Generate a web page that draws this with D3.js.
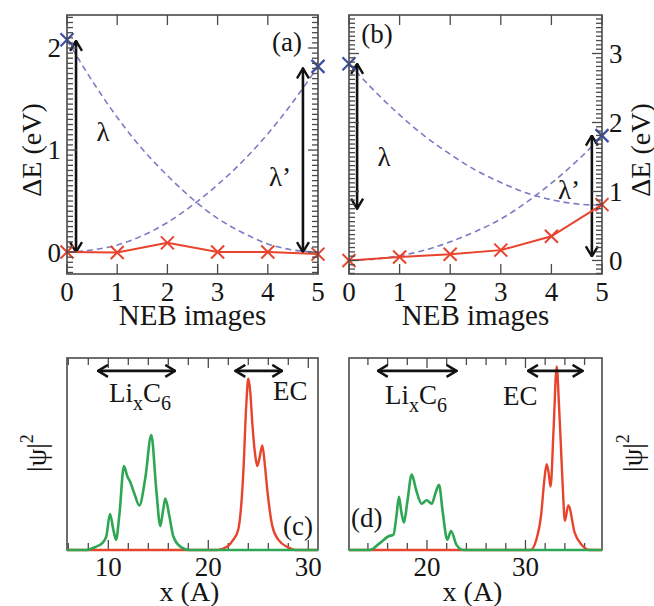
<!DOCTYPE html>
<html><head><meta charset="utf-8">
<script src="https://cdn.jsdelivr.net/npm/d3@7"></script>
<style>body{margin:0;background:#fff}svg{display:block}</style>
</head><body><svg id="c" width="654" height="606"></svg>
<script>
// ---------- data ----------
const nebImages = [0, 1, 2, 3, 4, 5];
const dashX = [0, 0.5, 1, 1.5, 2, 2.5, 3, 3.5, 4, 4.5, 5];
// panel (a)
const redA = [0, -0.005, 0.09, 0, 0, -0.02];
const blueAx = [0, 5];
const blueAy = [2.08, 1.82];
const dashA1 = [2.08, 1.68, 1.32, 1.01, 0.75, 0.52, 0.33, 0.19, 0.08, 0.02, 0];
const dashA2 = [0, 0.02, 0.07, 0.16, 0.29, 0.46, 0.66, 0.89, 1.16, 1.47, 1.82];
const arrowsAx = [0.18, 4.7];
const arrowsAtop = [2.07, 1.8];
const arrowsAbot = [0, 0];
// panel (b)
const redB = [0, 0.05, 0.09, 0.15, 0.35, 0.81];
const blueBx = [0, 5];
const blueBy = [2.85, 1.81];
const dashB1 = [2.85, 2.46, 2.11, 1.80, 1.54, 1.31, 1.13, 0.98, 0.88, 0.82, 0.80];
const dashB2 = [0, 0.02, 0.07, 0.15, 0.27, 0.42, 0.60, 0.84, 1.12, 1.44, 1.80];
const arrowsBx = [0.16, 4.8];
const arrowsBtop = [2.85, 1.81];
const arrowsBbot = [0.75, 0.06];
const yTicksA = [0, 1, 2];
const yTicksB = [0, 1, 2, 3];
// panel (c)
const greenCx = [5.87, 7.8, 8.8, 9.4, 9.8, 10.17, 10.5, 10.77, 11.1, 11.57, 11.9, 12.17, 12.6, 13.1, 13.7, 14.3, 14.8, 15.2, 15.45, 15.7, 16.1, 16.5, 17.3, 18.1, 30.97];
const greenCy = [0, 0, 0.02, 0.04, 0.08, 0.21, 0.12, 0.06, 0.2, 0.49, 0.43, 0.40, 0.33, 0.26, 0.42, 0.67, 0.35, 0.14, 0.22, 0.30, 0.2, 0.08, 0.015, 0, 0];
const redCx = [5.87, 20.9, 21.9, 22.5, 23.0, 23.5, 23.8, 24.0, 24.2, 24.4, 24.7, 24.9, 25.1, 25.4, 25.65, 25.9, 26.4, 27.0, 28.0, 28.7, 30.97];
const redCy = [0, 0, 0.02, 0.06, 0.12, 0.45, 0.85, 1.0, 0.92, 0.74, 0.55, 0.49, 0.53, 0.61, 0.5, 0.35, 0.14, 0.06, 0.015, 0, 0];
const arrowsCx1 = [8.97, 22.7];
const arrowsCx2 = [16.7, 27.4];
// panel (d)
const greenDx = [12.08, 14.2, 15.2, 16.1, 16.6, 16.9, 17.15, 17.4, 17.66, 18.0, 18.45, 18.9, 19.46, 19.97, 20.48, 20.85, 21.22, 21.6, 22.06, 22.44, 23.0, 23.7, 37.77];
const greenDy = [0, 0, 0.04, 0.08, 0.09, 0.2, 0.31, 0.22, 0.16, 0.28, 0.44, 0.35, 0.27, 0.29, 0.27, 0.33, 0.38, 0.22, 0.06, 0.11, 0.03, 0, 0];
const redDx = [12.08, 30.5, 31.1, 31.6, 31.9, 32.15, 32.35, 32.55, 32.85, 33.17, 33.4, 33.57, 33.8, 34.0, 34.35, 35.0, 35.7, 36.5, 37.77];
const redDy = [0, 0, 0.06, 0.21, 0.4, 0.5, 0.45, 0.37, 0.7, 1.07, 0.85, 0.64, 0.35, 0.17, 0.26, 0.10, 0.03, 0, 0];
const arrowsDx1 = [15.0, 30.25];
const arrowsDx2 = [23.0, 35.8];
const xTicksC = [10, 20, 30];
const xTicksD = [20, 30];

// ---------- drawing ----------
const svg = d3.select("#c");
const FRAME = "#4a4a4a", RED = "#e8432d", GREEN = "#2ea654", BLUE = "#3d4ea6", DASH = "#7b7cc4";
const FS = 27, FL = 28;
const TXT = "#151515";
const FONT = '"Liberation Serif"';

const defs = svg.append("defs");
defs.append("marker").attr("id", "ah").attr("viewBox", "0 0 12 14")
  .attr("refX", 11).attr("refY", 7).attr("markerWidth", 12).attr("markerHeight", 14)
  .attr("markerUnits", "userSpaceOnUse").attr("orient", "auto-start-reverse")
  .append("path").attr("d", "M1,1 L11,7 L1,13").attr("fill", "none").attr("stroke", "#111").attr("stroke-width", 2.4);

function txt(x, y, s, size, anchor) {
  const t = svg.append("text").attr("x", x).attr("y", y).attr("font-size", size || FS)
    .attr("text-anchor", anchor || "start").attr("fill", TXT).style("font-family", FONT);
  if (s !== null) t.text(s);
  return t;
}
function rtxt(cx, cy, size) {
  return svg.append("text").attr("transform", `translate(${cx},${cy}) rotate(-90)`).attr("dy", "0.35em")
    .attr("text-anchor", "middle").attr("font-size", size).attr("fill", TXT).style("font-family", FONT);
}

function xMark(g, x, y, s, color, w) {
  g.append("path").attr("d", `M${x-s},${y-s}L${x+s},${y+s}M${x-s},${y+s}L${x+s},${y-s}`)
    .attr("stroke", color).attr("stroke-width", w).attr("fill", "none");
}

function nebPanel(o) {
  const x = d3.scaleLinear().domain([0, 5]).range([o.x0, o.x1]);
  const y = d3.scaleLinear().domain(o.ydom).range([o.y1, o.y0]);
  const g = svg.append("g");
  const tk = svg.append("g").attr("stroke", FRAME).attr("stroke-width", 1.3);
  const minor = d3.range(Math.ceil(o.ydom[0] / o.minorStep), Math.floor(o.ydom[1] / o.minorStep) + 1).map(d => d * o.minorStep);
  minor.forEach(v => {
    const isMaj = Math.abs(v - Math.round(v)) < 1e-6;
    const L = isMaj ? 10 : 6;
    tk.append("line").attr("x1", o.x0).attr("x2", o.x0 + L).attr("y1", y(v)).attr("y2", y(v));
    tk.append("line").attr("x1", o.x1).attr("x2", o.x1 - L).attr("y1", y(v)).attr("y2", y(v));
  });
  nebImages.forEach(v => {
    tk.append("line").attr("x1", x(v)).attr("x2", x(v)).attr("y1", o.y0).attr("y2", o.y0 + 10);
    tk.append("line").attr("x1", x(v)).attr("x2", x(v)).attr("y1", o.y1).attr("y2", o.y1 - 10);
  });
  const ld = d3.line().x((d, i) => x(dashX[i])).y(d => y(d)).curve(d3.curveMonotoneX);
  [o.d1, o.d2].forEach(arr => g.append("path").attr("d", ld(arr)).attr("fill", "none")
    .attr("stroke", DASH).attr("stroke-width", 1.6).attr("stroke-dasharray", "6,4"));
  o.ax.forEach((v, i) => {
    g.append("line").attr("x1", x(v)).attr("x2", x(v)).attr("y1", y(o.atop[i])).attr("y2", y(o.abot[i]))
      .attr("stroke", "#111").attr("stroke-width", 2.6)
      .attr("marker-start", "url(#ah)").attr("marker-end", "url(#ah)");
  });
  const lr = d3.line().x((d, i) => x(nebImages[i])).y(d => y(d));
  g.append("path").attr("d", lr(o.red)).attr("fill", "none").attr("stroke", RED).attr("stroke-width", 2);
  o.red.forEach((v, i) => xMark(g, x(nebImages[i]), y(v), 6.5, RED, 2));
  o.bx.forEach((v, i) => xMark(g, x(v), y(o.by[i]), 6.5, BLUE, 2.2));
  svg.append("rect").attr("x", o.x0).attr("y", o.y0).attr("width", o.x1 - o.x0).attr("height", o.y1 - o.y0)
    .attr("fill", "none").attr("stroke", FRAME).attr("stroke-width", 1.6);
  nebImages.forEach(v => txt(x(v), 301, v, FS, "middle"));
  o.yticks.forEach(v => txt(o.labelSide === "left" ? o.x0 - 6 : o.x1 + 7, y(v), v, FS,
    o.labelSide === "left" ? "end" : "start").attr("dy", "0.35em"));
  txt((o.x0 + o.x1) / 2, 325, "NEB images", FL + 1, "middle");
  rtxt(o.ylabX, 150, FL).text("ΔE (eV)");
  o.texts.forEach(t => txt(t[0], t[1], t[2], FS, "middle"));
}

nebPanel({x0: 67, x1: 318, y0: 15, y1: 274, ydom: [-0.215, 2.3235], minorStep: 0.05,
  d1: dashA1, d2: dashA2, red: redA, bx: blueAx, by: blueAy,
  ax: arrowsAx, atop: arrowsAtop, abot: arrowsAbot, yticks: yTicksA, labelSide: "left", ylabX: 31,
  texts: [[103, 141, "λ"], [280, 186, "λ’"], [287, 51, "(a)"]]});
nebPanel({x0: 349, x1: 602, y0: 15, y1: 274, ydom: [-0.196, 3.558], minorStep: 0.0625,
  d1: dashB1, d2: dashB2, red: redB, bx: blueBx, by: blueBy,
  ax: arrowsBx, atop: arrowsBtop, abot: arrowsBbot, yticks: yTicksB, labelSide: "right", ylabX: 640,
  texts: [[384, 166, "λ"], [569, 199, "λ’"], [377, 43, "(b)"]]});

function psiPanel(o) {
  const x = d3.scaleLinear().domain(o.xdom).range([o.x0, o.x1]);
  const y = d3.scaleLinear().domain([0, 1.12]).range([o.y1, o.y0]);
  const tk = svg.append("g").attr("stroke", FRAME).attr("stroke-width", 1.3);
  d3.range(Math.ceil(o.xdom[0] / 2) * 2, o.xdom[1], 2).forEach(v => {
    const L = v % 10 === 0 ? 10 : 7;
    tk.append("line").attr("x1", x(v)).attr("x2", x(v)).attr("y1", o.y0).attr("y2", o.y0 + L);
    tk.append("line").attr("x1", x(v)).attr("x2", x(v)).attr("y1", o.y1).attr("y2", o.y1 - L);
  });
  svg.append("rect").attr("x", o.x0).attr("y", o.y0).attr("width", o.x1 - o.x0).attr("height", o.y1 - o.y0)
    .attr("fill", "none").attr("stroke", FRAME).attr("stroke-width", 1.6);
  const g = svg.append("g");
  const line = (xs) => d3.line().x((d, i) => x(xs[i])).y(d => y(d)).curve(d3.curveMonotoneX);
  g.append("path").attr("d", line(o.rx)(o.ry)).attr("fill", "none").attr("stroke", RED).attr("stroke-width", 2.4);
  g.append("path").attr("d", line(o.gx)(o.gy)).attr("fill", "none").attr("stroke", GREEN).attr("stroke-width", 2.6);
  o.a1.forEach((v, i) => {
    g.append("line").attr("x1", x(v)).attr("x2", x(o.a2[i])).attr("y1", y(1.045)).attr("y2", y(1.045))
      .attr("stroke", "#111").attr("stroke-width", 2.6)
      .attr("marker-start", "url(#ah)").attr("marker-end", "url(#ah)");
  });
  o.xticks.forEach(v => txt(x(v), 576, v, FS, "middle"));
  txt((o.x0 + o.x1) / 2 - 3, 601, "x (A)", FL, "middle");
  const yl = rtxt(o.ylabX, 453, FL);
  yl.append("tspan").text("|ψ|");
  yl.append("tspan").attr("font-size", 18).attr("dy", "-0.7em").text("2");
  const li = txt(o.li[0], o.li[1], null, FS);
  li.append("tspan").text("Li");
  li.append("tspan").attr("font-size", 20).attr("dy", 8).text("x");
  li.append("tspan").attr("dy", -8).text("C");
  li.append("tspan").attr("font-size", 20).attr("dy", 8).text("6");
  txt(o.ec[0], o.ec[1], "EC", FS);
  txt(o.lab[0], o.lab[1], o.lab[2], FS);
}

psiPanel({x0: 67, x1: 318, y0: 358, y1: 550, xdom: [5.87, 30.97], gx: greenCx, gy: greenCy, rx: redCx, ry: redCy,
  a1: arrowsCx1, a2: arrowsCx2, xticks: xTicksC, ylabX: 36, li: [109, 402], ec: [273, 400], lab: [283, 535, "(c)"]});
psiPanel({x0: 349, x1: 602, y0: 358, y1: 550, xdom: [12.08, 37.77], gx: greenDx, gy: greenDy, rx: redDx, ry: redDy,
  a1: arrowsDx1, a2: arrowsDx2, xticks: xTicksD, ylabX: 632, li: [385, 404], ec: [503, 405], lab: [351, 527, "(d)"]});
</script></body></html>
